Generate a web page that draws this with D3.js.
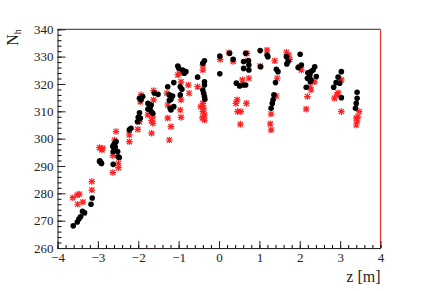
<!DOCTYPE html>
<html>
<head>
<meta charset="utf-8">
<script src="https://cdn.jsdelivr.net/npm/d3@7"></script>
<style>
  body { margin: 0; background: #fff; }
  text { font-family: "Liberation Serif", "DejaVu Serif", serif; }
</style>
</head>
<body>
<svg id="chart" width="424" height="291"></svg>
<script>
// [z, Nh] pairs
var blackPoints = [
  [-3.61, 268.1], [-3.51, 269.5], [-3.47, 270.6], [-3.43, 271.4], [-3.38, 273.4], [-3.33, 272.9],
  [-3.17, 276.0], [-3.14, 278.3],
  [-2.96, 291.6], [-2.92, 291.2], [-2.95, 291.9], [-2.91, 290.9],
  [-2.62, 290.6], [-2.62, 295.3], [-2.58, 298.3], [-2.55, 298.9], [-2.63, 297.1], [-2.51, 295.3],
  [-2.47, 293.1], [-2.50, 293.4], [-2.61, 297.7], [-2.57, 296.9],
  [-2.22, 303.2], [-2.18, 303.8], [-2.02, 306.2], [-2.00, 307.8], [-1.97, 309.5], [-1.95, 307.5],
  [-1.97, 314.8], [-1.93, 314.2], [-1.89, 315.4], [-1.76, 312.9], [-1.70, 311.7], [-1.68, 312.3],
  [-1.68, 309.9], [-1.64, 309.3], [-1.76, 310.8], [-1.60, 316.6], [-1.51, 316.2],
  [-1.27, 319.0], [-1.23, 316.0], [-1.19, 314.4], [-1.23, 314.0], [-1.21, 311.1], [-1.19, 310.5],
  [-1.12, 320.5], [-1.15, 315.6], [-1.12, 311.7],
  [-1.02, 326.6], [-1.00, 325.8], [-0.96, 319.0], [-0.92, 318.1], [-0.96, 316.0], [-0.90, 325.1],
  [-0.82, 324.5], [-0.86, 323.9],
  [-0.53, 322.5], [-0.40, 327.6], [-0.36, 328.5], [-0.36, 320.8], [-0.36, 319.6], [-0.40, 317.8],
  [-0.38, 316.6], [-0.36, 315.4], [-0.35, 314.4],
  [0.02, 330.2], [0.02, 323.7],
  [0.26, 331.2], [0.35, 329.0], [0.43, 320.3], [0.51, 319.3], [0.59, 319.6], [0.66, 319.6],
  [0.61, 328.2], [0.61, 325.7], [0.66, 331.2], [0.73, 328.5], [0.74, 326.9], [0.74, 325.1],
  [1.02, 332.2], [1.03, 326.3], [1.19, 330.6], [1.21, 330.0], [1.42, 325.4], [1.46, 324.5],
  [1.40, 320.5], [1.34, 314.2], [1.32, 312.9], [1.29, 311.1], [1.36, 316.0],
  [1.67, 330.0], [1.71, 328.2], [1.68, 327.3], [2.01, 330.9], [1.96, 326.0], [2.04, 326.9],
  [2.16, 318.8], [2.19, 322.1], [2.25, 323.3], [2.28, 324.5], [2.33, 325.1], [2.37, 326.3],
  [2.20, 324.1], [2.28, 321.5], [2.26, 320.8], [2.41, 322.7],
  [2.84, 318.8], [2.90, 320.5], [2.95, 322.5], [3.03, 324.5], [2.99, 320.3], [3.03, 315.0],
  [3.42, 317.0], [3.42, 314.8], [3.40, 312.9], [3.38, 311.1]
];

var redPoints = [
  [-3.62, 278.4], [-3.51, 279.4], [-3.46, 279.7], [-3.50, 276.0], [-3.37, 276.8], [-3.35, 272.7],
  [-3.15, 284.3], [-3.15, 281.2],
  [-2.96, 296.7], [-2.90, 295.9], [-2.88, 296.5],
  [-2.63, 287.6], [-2.63, 293.8], [-2.49, 291.0], [-2.49, 289.4], [-2.55, 302.6], [-2.59, 299.5],
  [-2.22, 298.9], [-2.22, 301.4], [-2.01, 303.4], [-1.97, 306.2],
  [-1.93, 316.0], [-1.95, 313.5], [-1.76, 308.7], [-1.64, 308.0], [-1.64, 305.6], [-1.67, 302.0],
  [-1.67, 306.6], [-1.62, 317.6], [-1.62, 314.2],
  [-1.29, 316.6], [-1.27, 312.3], [-1.27, 307.5], [-1.19, 304.4], [-1.23, 299.5],
  [-1.02, 323.3], [-0.98, 323.9], [-0.94, 320.8], [-0.96, 310.5], [-0.94, 314.2], [-0.94, 307.8],
  [-0.76, 319.6], [-0.74, 316.6],
  [-0.53, 319.0], [-0.40, 325.1], [-0.40, 326.9], [-0.45, 311.7], [-0.40, 312.9], [-0.40, 309.9],
  [-0.36, 308.7], [-0.36, 306.8], [-0.38, 311.2], [-0.41, 307.6],
  [0.03, 329.0],
  [0.25, 331.4], [0.35, 328.2], [0.58, 321.5], [0.74, 322.1], [0.69, 331.2], [0.71, 328.5],
  [0.45, 314.2], [0.42, 312.9], [0.46, 309.9], [0.54, 309.9], [0.53, 305.3], [0.68, 312.9],
  [1.02, 326.6], [1.19, 332.4], [1.38, 328.5], [1.44, 322.1], [1.42, 315.6], [1.29, 309.0],
  [1.27, 305.4], [1.29, 303.2],
  [1.67, 331.6], [1.73, 330.6], [1.75, 329.0], [2.00, 326.3], [2.04, 325.1], [2.19, 315.4],
  [2.16, 310.8], [2.26, 318.8], [2.28, 317.8], [2.37, 320.8],
  [2.95, 316.8], [2.86, 314.8], [3.03, 309.9], [3.03, 321.5], [2.92, 316.0],
  [3.44, 308.0], [3.40, 307.5], [3.40, 305.0], [3.47, 309.9], [3.42, 306.5]
];

var xTicks = [-4, -3, -2, -1, 0, 1, 2, 3, 4];
var yTicks = [260, 270, 280, 290, 300, 310, 320, 330, 340];

var svg = d3.select('#chart');

var x = d3.scaleLinear().domain([-4, 4]).range([57.5, 380.5]);
var y = d3.scaleLinear().domain([260, 340]).range([248, 29.3]);

// frame
svg.append('line')
  .attr('x1', x(-4)).attr('x2', x(4))
  .attr('y1', y(340)).attr('y2', y(340))
  .attr('stroke', '#555').attr('stroke-width', 1.2);
svg.append('line')
  .attr('x1', x(4)).attr('x2', x(4))
  .attr('y1', y(340)).attr('y2', y(260))
  .attr('stroke', '#e33').attr('stroke-width', 1.2);
svg.append('line')
  .attr('x1', x(-4)).attr('x2', x(4))
  .attr('y1', y(260) + 0.6).attr('y2', y(260) + 0.6)
  .attr('stroke', '#c00').attr('stroke-width', 1);

// minor ticks
svg.append('g')
  .attr('transform', 'translate(0,' + y(260) + ')')
  .call(d3.axisBottom(x).tickValues(d3.range(-4, 4.01, 0.2)).tickSize(-3).tickFormat(''))
  .call(g => g.select('.domain').remove());
svg.append('g')
  .attr('transform', 'translate(' + x(-4) + ',0)')
  .call(d3.axisLeft(y).tickValues(d3.range(260, 340.1, 2)).tickSize(-4).tickFormat(''))
  .call(g => g.select('.domain').remove());

// major axes
var xAxis = svg.append('g')
  .attr('transform', 'translate(0,' + y(260) + ')')
  .call(d3.axisBottom(x).tickValues(xTicks).tickSize(-7).tickSizeOuter(0).tickPadding(5));
var yAxis = svg.append('g')
  .attr('transform', 'translate(' + x(-4) + ',0)')
  .call(d3.axisLeft(y).tickValues(yTicks).tickSize(-8).tickSizeOuter(0).tickPadding(4));

[xAxis, yAxis].forEach(function (g) {
  g.selectAll('text')
    .style('font-family', '"Liberation Serif", serif')
    .style('font-size', '13px')
    .attr('fill', '#222');
  g.selectAll('line').attr('stroke', '#222');
  g.select('.domain').attr('stroke', '#222');
});

// red asterisks
var r = 3.3, a = 2.6;
var starPath = 'M' + (-r) + ',0L' + r + ',0M0,' + (-r) + 'L0,' + r +
  'M' + (-a) + ',' + (-a) + 'L' + a + ',' + a + 'M' + (-a) + ',' + a + 'L' + a + ',' + (-a);

svg.append('g').selectAll('path')
  .data(redPoints)
  .enter()
  .append('path')
  .attr('d', starPath)
  .attr('transform', d => 'translate(' + x(d[0]) + ',' + y(d[1]) + ')')
  .attr('fill', 'none')
  .attr('stroke', '#f22')
  .attr('stroke-width', 1.2);

// black dots
svg.append('g').selectAll('circle')
  .data(blackPoints)
  .enter()
  .append('circle')
  .attr('cx', d => x(d[0]))
  .attr('cy', d => y(d[1]))
  .attr('r', 2.8)
  .attr('fill', '#000');

// titles
svg.append('text')
  .attr('x', x(4))
  .attr('y', 282)
  .attr('text-anchor', 'end')
  .style('font-size', '16px')
  .attr('fill', '#222')
  .text('z [m]');

var yTitle = svg.append('text')
  .attr('transform', 'translate(18,' + y(340) + ') rotate(-90)')
  .attr('text-anchor', 'end')
  .style('font-size', '16px')
  .attr('fill', '#222');
yTitle.append('tspan').text('N');
yTitle.append('tspan').attr('dy', 3).style('font-size', '10px').text('h');
</script>
</body>
</html>
